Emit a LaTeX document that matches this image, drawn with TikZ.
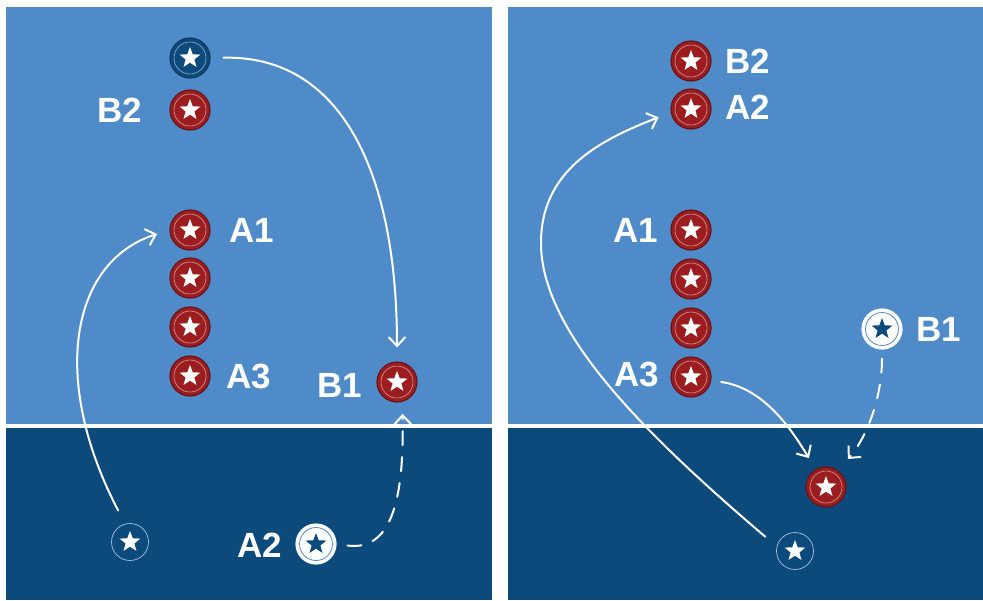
\documentclass[tikz,border=0pt]{standalone}
\usepackage{fontspec}
\setmainfont{Liberation Sans}
\usetikzlibrary{arrows.meta}
\definecolor{fsSky}{HTML}{4F8BC9}
\definecolor{fsNavy}{HTML}{0D4A7C}
\definecolor{fsRed}{HTML}{9C1D20}
\definecolor{fsRedEdge}{HTML}{6A1418}
\definecolor{fsRing}{HTML}{A9C3E0}
% five-point star inside a token
\newcommand{\fsstar}[1]{%
  \fill[#1] (path picture bounding box.center) +(90:11pt)
    \foreach \k in {0,...,4}{ -- +({126+72*\k}:4.6pt) -- +({162+72*\k}:11pt) } -- cycle;}
\tikzset{
  fstok/.style={circle, minimum size=40pt, inner sep=0pt, line width=1.2pt},
  fsred/.style={fstok, fill=fsRed, draw=fsRedEdge,
    path picture={\draw[white, opacity=.55, line width=.6pt]
      (path picture bounding box.center) circle (16pt); \fsstar{white}}},
  fsnavy/.style={fstok, fill=fsNavy, draw=fsNavy!80!black,
    path picture={\draw[white, opacity=.55, line width=.6pt]
      (path picture bounding box.center) circle (16pt); \fsstar{white}}},
  fswhite/.style={fstok, fill=white, draw=white,
    path picture={\draw[fsSky, line width=.8pt]
      (path picture bounding box.center) circle (16.5pt); \fsstar{fsNavy}}},
  fsghost/.style={fstok, minimum size=37pt, draw=fsRing, line width=.7pt,
    path picture={\fsstar{white}}},
  fslabel/.style={text=white, font=\fontsize{35}{40}\selectfont\bfseries, inner sep=0pt},
  fsmove/.style={-{Straight Barb[length=9pt, width=17pt]}, line width=2pt,
    draw=white, line cap=round},
  fspass/.style={fsmove, dash pattern=on 14pt off 12pt},
}
\begin{document}
\begin{tikzpicture}[x=1pt, y=-1pt]
  \useasboundingbox (0,0) rectangle (983,600);
  \fill[white] (0,0) rectangle (983,600);

  % --- Courts ------------------------------------------------------------
  \fill[fsSky]  (6,7)     rectangle (492,424);
  \fill[fsNavy] (6,428)   rectangle (492,600);
  \fill[fsSky]  (508,7)   rectangle (983,424);
  \fill[fsNavy] (508,428) rectangle (983,600);

  % --- Left court --------------------------------------------------------
  \node[fsnavy] (lNavy) at (190,58)  {};
  \node[fsred]  (lB2)   at (190,110) {};
  \node[fsred]  (lA1)   at (190,230) {};
  \node[fsred]  (lM1)   at (190,278) {};
  \node[fsred]  (lM2)   at (190,327) {};
  \node[fsred]  (lA3)   at (190,376) {};
  \node[fsred]  (lB1)   at (397,382) {};
  \node[fsghost](lGhost)at (130,542) {};
  \node[fswhite](lA2)   at (316,544) {};

  \node[fslabel] (lB2txt) at (120,110) {B2};
  \node[fslabel] (lA1txt) at (252,230) {A1};
  \node[fslabel] (lA3txt) at (249,376) {A3};
  \node[fslabel] (lB1txt) at (340,385) {B1};
  \node[fslabel] (lA2txt) at (260,545) {A2};

  \draw[fsmove, shorten <=13pt, shorten >=14pt]
    (lNavy.east) .. controls (340,55) and (397,170) .. (lB1.north);
  \draw[fsmove, shorten <=15pt, shorten >=13pt]
    (lGhost.105) .. controls (50,380) and (70,262) .. (lA1.west);
  \draw[fspass, shorten <=11pt, shorten >=12pt]
    (lA2.east) .. controls (395,552) and (404,490) .. (lB1.-75);

  % --- Right court -------------------------------------------------------
  \node[fsred]  (rB2)   at (691,61)  {};
  \node[fsred]  (rA2)   at (691,109) {};
  \node[fsred]  (rA1)   at (691,230) {};
  \node[fsred]  (rM1)   at (691,279) {};
  \node[fsred]  (rM2)   at (691,328) {};
  \node[fsred]  (rA3)   at (691,377) {};
  \node[fswhite](rB1)   at (882,329) {};
  \node[fsred]  (rRed)  at (826,487) {};
  \node[fsghost](rGhost)at (795,551) {};

  \node[fslabel] (rB2txt) at (748,61)  {B2};
  \node[fslabel] (rA2txt) at (748,107) {A2};
  \node[fslabel] (rA1txt) at (636,230) {A1};
  \node[fslabel] (rA3txt) at (637,374) {A3};
  \node[fslabel] (rB1txt) at (939,329) {B1};

  \draw[fsmove, shorten <=15pt, shorten >=13pt]
    (rGhost.166) .. controls (640,430) and (541,330) .. (541,243)
                 .. controls (541,170) and (600,140) .. (rA2.190);
  \draw[fsmove, shorten <=10pt, shorten >=13pt]
    (rA3.-10) .. controls (765,388) and (793,432) .. (rRed.120);
  \draw[fspass, shorten <=9pt, shorten >=15pt]
    (rB1.south) .. controls (882,400) and (865,440) .. (rRed.55);

\end{tikzpicture}
\end{document}
